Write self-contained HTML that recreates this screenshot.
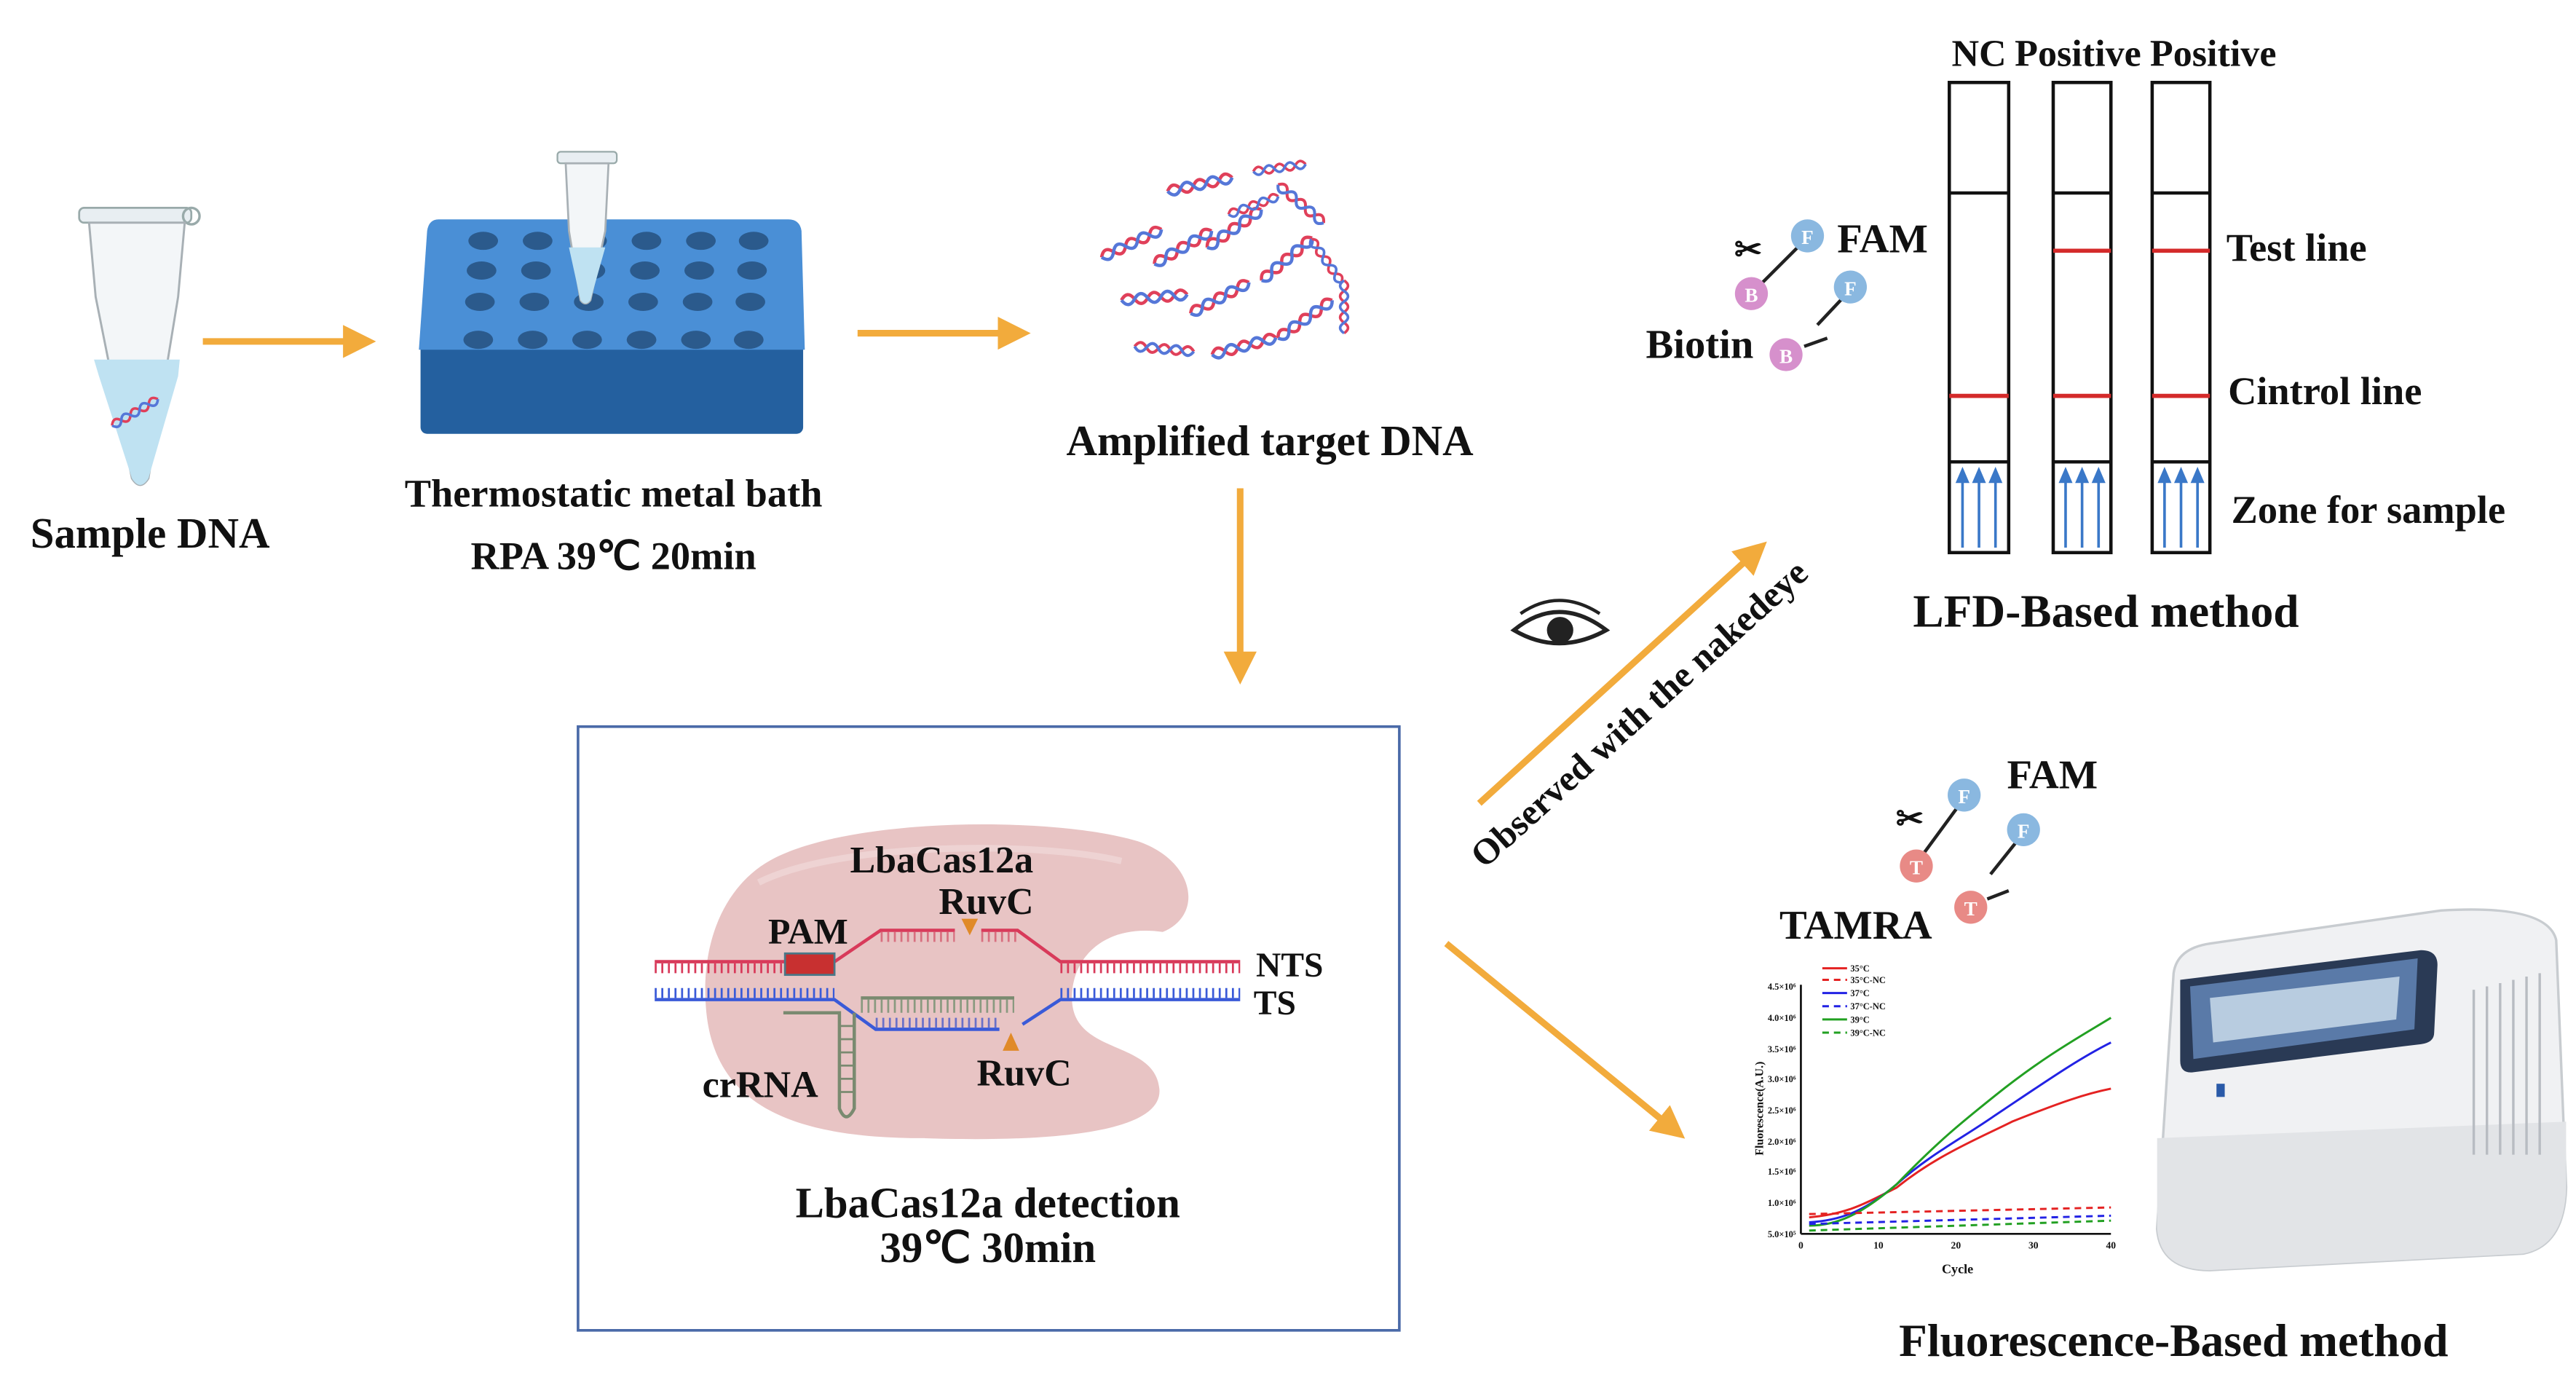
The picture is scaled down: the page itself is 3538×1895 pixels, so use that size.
<!DOCTYPE html>
<html><head><meta charset="utf-8"><style>
html,body{margin:0;padding:0;background:#fff}
svg{display:block}
text{font-family:"Liberation Serif",serif;font-weight:bold;fill:#111}
</style></head><body>
<svg width="3538" height="1895" viewBox="0 0 1562 836.6" preserveAspectRatio="none" xmlns="http://www.w3.org/2000/svg">
<defs>
<marker id="ah" markerWidth="5" markerHeight="5" refX="2.5" refY="2.5" orient="auto" markerUnits="strokeWidth"><path d="M0,0 L5,2.5 L0,5 z" fill="#f2ab3c"/></marker>
<g id="hx">
<path d="M0,0 q4,-6 8,0 t8,0 t8,0 t8,0 t8,0" fill="none" stroke="#e0405a" stroke-width="2"/>
<path d="M0,0 q4,6 8,0 t8,0 t8,0 t8,0 t8,0" fill="none" stroke="#5577d8" stroke-width="2"/>
</g>
</defs>

<!-- Sample tube -->
<rect x="48" y="126" width="68" height="9" rx="3" fill="#e8eef2" stroke="#9aa" stroke-width="1.2"/>
<circle cx="116" cy="131" r="5" fill="none" stroke="#9aa" stroke-width="1.5"/>
<path d="M54,135 L112,135 L108,180 L90,290 Q85,298 80,290 L58,180 Z" fill="#f3f6f8" stroke="#a8b0b5" stroke-width="1.3"/>
<path d="M57,218 L109,218 L108,228 L90,290 Q85,298 80,290 L60,228 Z" fill="#bfe2f2"/>
<use href="#hx" transform="translate(68,258) rotate(-30) scale(0.8)"/>
<text x="91" y="332" font-size="26" text-anchor="middle">Sample DNA</text>

<line x1="123" y1="207" x2="218" y2="207" stroke="#f2ab3c" stroke-width="4" marker-end="url(#ah)"/>

<!-- metal bath -->
<rect x="255" y="205" width="232" height="58" rx="4" fill="#24609f"/>
<path d="M266,133 L478,133 Q485,133 486,140 L488,212 L254,212 L259,140 Q260,133 266,133 Z" fill="#4a8fd6"/>
<g fill="#2b5a8c">
<g id="row">
<ellipse cx="293" cy="146" rx="9" ry="5.5"/><ellipse cx="326" cy="146" rx="9" ry="5.5"/><ellipse cx="359" cy="146" rx="9" ry="5.5"/><ellipse cx="392" cy="146" rx="9" ry="5.5"/><ellipse cx="425" cy="146" rx="9" ry="5.5"/><ellipse cx="457" cy="146" rx="9" ry="5.5"/>
</g>
<use href="#row" transform="translate(-1,18)"/>
<use href="#row" transform="translate(-2,37)"/>
<use href="#row" transform="translate(-3,60)"/>
</g>
<rect x="338" y="92" width="36" height="7" rx="2" fill="#e8eef2" stroke="#9aa"/>
<path d="M343,99 L369,99 L367,140 L358,182 Q355,186 352,182 L345,140 Z" fill="#f3f6f8" stroke="#a8b0b5" stroke-width="1.2"/>
<path d="M345,150 L367,150 L358,182 Q355,186 352,182 Z" fill="#bfe2f2"/>
<text x="372" y="307" font-size="24" text-anchor="middle">Thermostatic metal bath</text>
<text x="372" y="345" font-size="24" text-anchor="middle">RPA  39℃ 20min</text>

<line x1="520" y1="202" x2="615" y2="202" stroke="#f2ab3c" stroke-width="4" marker-end="url(#ah)"/>

<!-- amplified DNA -->
<use href="#hx" transform="translate(668,156) rotate(-25)"/>
<use href="#hx" transform="translate(708,116) rotate(-12)"/>
<use href="#hx" transform="translate(760,104) rotate(-8) scale(0.8)"/>
<use href="#hx" transform="translate(775,112) rotate(40) scale(0.9)"/>
<use href="#hx" transform="translate(700,160) rotate(-30)"/>
<use href="#hx" transform="translate(732,150) rotate(-35)"/>
<use href="#hx" transform="translate(680,182) rotate(-5)"/>
<use href="#hx" transform="translate(722,190) rotate(-28)"/>
<use href="#hx" transform="translate(765,170) rotate(-40)"/>
<use href="#hx" transform="translate(795,145) rotate(55) scale(0.8)"/>
<use href="#hx" transform="translate(688,210) rotate(5) scale(0.9)"/>
<use href="#hx" transform="translate(735,215) rotate(-15)"/>
<use href="#hx" transform="translate(775,205) rotate(-35)"/>
<use href="#hx" transform="translate(815,170) rotate(90) scale(0.8)"/>
<use href="#hx" transform="translate(745,130) rotate(-20) scale(0.8)"/>
<text x="770" y="276" font-size="26" text-anchor="middle">Amplified target DNA</text>

<line x1="752" y1="296" x2="752" y2="405" stroke="#f2ab3c" stroke-width="4" marker-end="url(#ah)"/>

<!-- Cas12a box -->
<rect x="350.5" y="440.5" width="498" height="366" fill="#fff" stroke="#4a6aa8" stroke-width="1.6"/>
<path d="M470,520 C520,495 640,495 690,510 C725,522 730,555 705,565 C670,560 650,580 650,605 C650,640 700,630 703,660 C706,690 620,692 560,690 C480,690 432,670 428,610 C425,570 440,535 470,520 Z" fill="#e8c4c4"/>
<path d="M460,535 C510,510 630,510 680,522" fill="none" stroke="#f2dede" stroke-width="4" opacity="0.6"/>
<g fill="none" stroke-width="2">
<path d="M397,583 L506,583 L534,564 L579,564 M595,564 L617,564 L643,583 L752,583" stroke="#d83a5a"/>
<path d="M397,583 L506,583 M643,583 L752,583" stroke="#d83a5a" stroke-width="6" stroke-dasharray="1.2 2.8" transform="translate(0,4)"/>
<path d="M534,564 L579,564 M595,564 L617,564" stroke="#d87080" stroke-width="6" stroke-dasharray="1.2 2.8" transform="translate(0,4)"/>
<path d="M397,606 L506,606 L531,624 L606,624 M620,621 L643,606 L752,606" stroke="#3a5ad8"/>
<path d="M397,606 L506,606 M643,606 L752,606" stroke="#3a5ad8" stroke-width="6" stroke-dasharray="1.2 2.8" transform="translate(0,-4)"/>
<path d="M531,624 L606,624" stroke="#6a70c8" stroke-width="6" stroke-dasharray="1.2 2.8" transform="translate(0,-4)"/>
<path d="M522,605 L615,605" stroke="#7a8a70"/>
<path d="M522,605 L615,605" stroke="#8a9a80" stroke-width="8" stroke-dasharray="1.2 2.8" transform="translate(0,5)"/>
<path d="M475,614 L509,614 L509,672 Q513,682 518,672 L518,614" stroke="#7a8a70"/>
<path d="M509,622 L518,622 M509,630 L518,630 M509,638 L518,638 M509,646 L518,646 M509,654 L518,654 M509,662 L518,662" stroke="#7a8a70" stroke-width="1.2"/>
</g>
<rect x="476" y="578" width="30" height="13" fill="#c83030" stroke="#4a7888" stroke-width="1.2"/>
<path d="M583,557 L593,557 L588,567 Z" fill="#e08a28"/>
<path d="M608,637 L618,637 L613,626 Z" fill="#e08a28"/>
<text x="571" y="529" font-size="23" text-anchor="middle">LbaCas12a</text>
<text x="598" y="554" font-size="23" text-anchor="middle">RuvC</text>
<text x="490" y="572" font-size="22" text-anchor="middle">PAM</text>
<text x="782" y="592" font-size="21" text-anchor="middle">NTS</text>
<text x="773" y="615" font-size="21" text-anchor="middle">TS</text>
<text x="461" y="665" font-size="23" text-anchor="middle">crRNA</text>
<text x="621" y="658" font-size="23" text-anchor="middle">RuvC</text>
<text x="599" y="738" font-size="26" text-anchor="middle">LbaCas12a detection</text>
<text x="599" y="765" font-size="26" text-anchor="middle">39℃ 30min</text>

<!-- diagonal arrows -->
<line x1="897" y1="487" x2="1064" y2="335" stroke="#f2ab3c" stroke-width="4" marker-end="url(#ah)"/>
<line x1="877" y1="572" x2="1014" y2="684" stroke="#f2ab3c" stroke-width="4" marker-end="url(#ah)"/>
<text x="0" y="0" font-size="22" transform="translate(900,527) rotate(-42)">Observed with the nakedeye</text>
<path d="M918,382 Q945,360 974,382 Q945,398 918,382 Z" fill="#fff" stroke="#222" stroke-width="2.5"/>
<circle cx="946" cy="382" r="8" fill="#222"/>
<path d="M922,372 Q945,356 970,372" fill="none" stroke="#222" stroke-width="2"/>

<!-- LFD probes -->
<text x="1060" y="158" font-size="20" text-anchor="middle" font-weight="normal">✂</text>
<line x1="1092" y1="148" x2="1066" y2="174" stroke="#222" stroke-width="2"/>
<circle cx="1096" cy="143" r="10" fill="#8ab8e0"/><text x="1096" y="148" font-size="12" text-anchor="middle" style="fill:#fff">F</text>
<circle cx="1062" cy="178" r="10" fill="#d690cc"/><text x="1062" y="183" font-size="12" text-anchor="middle" style="fill:#fff">B</text>
<line x1="1118" y1="180" x2="1102" y2="197" stroke="#222" stroke-width="2"/>
<circle cx="1122" cy="174" r="10" fill="#8ab8e0"/><text x="1122" y="179" font-size="12" text-anchor="middle" style="fill:#fff">F</text>
<line x1="1094" y1="210" x2="1108" y2="205" stroke="#222" stroke-width="2"/>
<circle cx="1083" cy="215" r="10" fill="#d690cc"/><text x="1083" y="220" font-size="12" text-anchor="middle" style="fill:#fff">B</text>
<text x="1114" y="153" font-size="25">FAM</text>
<text x="998" y="217" font-size="25">Biotin</text>

<!-- LFD strips -->
<g stroke="#111" stroke-width="2" fill="#fff">
<rect x="1182" y="50" width="36" height="285"/>
<rect x="1245" y="50" width="35" height="285"/>
<rect x="1305" y="50" width="35" height="285"/>
</g>
<g stroke="#111" stroke-width="2">
<line x1="1182" y1="117" x2="1218" y2="117"/><line x1="1245" y1="117" x2="1280" y2="117"/><line x1="1305" y1="117" x2="1340" y2="117"/>
<line x1="1182" y1="280" x2="1218" y2="280"/><line x1="1245" y1="280" x2="1280" y2="280"/><line x1="1305" y1="280" x2="1340" y2="280"/>
</g>
<g stroke="#d42a2a" stroke-width="2.5">
<line x1="1245" y1="152" x2="1280" y2="152"/><line x1="1305" y1="152" x2="1340" y2="152"/>
<line x1="1182" y1="240" x2="1218" y2="240"/><line x1="1245" y1="240" x2="1280" y2="240"/><line x1="1305" y1="240" x2="1340" y2="240"/>
</g>
<g stroke="#3a78c8" stroke-width="1.6" fill="#3a78c8">
<g id="ar"><line x1="1190" y1="332" x2="1190" y2="290"/><path d="M1187,292 L1190,285 L1193,292 Z"/>
<line x1="1200" y1="332" x2="1200" y2="290"/><path d="M1197,292 L1200,285 L1203,292 Z"/>
<line x1="1210" y1="332" x2="1210" y2="290"/><path d="M1207,292 L1210,285 L1213,292 Z"/></g>
<use href="#ar" transform="translate(62.5,0)"/>
<use href="#ar" transform="translate(122.5,0)"/>
</g>
<text x="1200" y="40" font-size="23" text-anchor="middle">NC</text>
<text x="1260" y="40" font-size="23" text-anchor="middle">Positive</text>
<text x="1342" y="40" font-size="23" text-anchor="middle">Positive</text>
<text x="1350" y="158" font-size="24">Test line</text>
<text x="1351" y="245" font-size="24">Cintrol line</text>
<text x="1353" y="317" font-size="24">Zone for sample</text>
<text x="1277" y="380" font-size="28" text-anchor="middle">LFD-Based method</text>

<!-- fluorescence probes -->
<text x="1158" y="503" font-size="20" text-anchor="middle" font-weight="normal">✂</text>
<line x1="1188" y1="488" x2="1166" y2="518" stroke="#222" stroke-width="2"/>
<circle cx="1191" cy="482" r="10" fill="#8ab8e0"/><text x="1191" y="487" font-size="12" text-anchor="middle" style="fill:#fff">F</text>
<circle cx="1162" cy="525" r="10" fill="#e88a86"/><text x="1162" y="530" font-size="12" text-anchor="middle" style="fill:#fff">T</text>
<line x1="1223" y1="510" x2="1207" y2="530" stroke="#222" stroke-width="2"/>
<circle cx="1227" cy="503" r="10" fill="#8ab8e0"/><text x="1227" y="508" font-size="12" text-anchor="middle" style="fill:#fff">F</text>
<line x1="1205" y1="545" x2="1218" y2="540" stroke="#222" stroke-width="2"/>
<circle cx="1195" cy="550" r="10" fill="#e88a86"/><text x="1195" y="555" font-size="12" text-anchor="middle" style="fill:#fff">T</text>
<text x="1217" y="478" font-size="25">FAM</text>
<text x="1079" y="569" font-size="25">TAMRA</text>

<!-- chart -->
<line x1="1092" y1="597" x2="1092" y2="748" stroke="#111" stroke-width="1.2"/>
<line x1="1092" y1="748" x2="1280" y2="748" stroke="#111" stroke-width="1.2"/>
<g>
<text x="1089" y="600" text-anchor="end" font-size="5.5">4.5×10⁶</text>
<text x="1089" y="619" text-anchor="end" font-size="5.5">4.0×10⁶</text>
<text x="1089" y="638" text-anchor="end" font-size="5.5">3.5×10⁶</text>
<text x="1089" y="656" text-anchor="end" font-size="5.5">3.0×10⁶</text>
<text x="1089" y="675" text-anchor="end" font-size="5.5">2.5×10⁶</text>
<text x="1089" y="694" text-anchor="end" font-size="5.5">2.0×10⁶</text>
<text x="1089" y="712" text-anchor="end" font-size="5.5">1.5×10⁶</text>
<text x="1089" y="731" text-anchor="end" font-size="5.5">1.0×10⁶</text>
<text x="1089" y="750" text-anchor="end" font-size="5.5">5.0×10⁵</text>
<text x="1092" y="757" text-anchor="middle" font-size="6">0</text>
<text x="1139" y="757" text-anchor="middle" font-size="6">10</text>
<text x="1186" y="757" text-anchor="middle" font-size="6">20</text>
<text x="1233" y="757" text-anchor="middle" font-size="6">30</text>
<text x="1280" y="757" text-anchor="middle" font-size="6">40</text>
<text x="1187" y="772" text-anchor="middle" font-size="8">Cycle</text>
<text x="0" y="0" text-anchor="middle" font-size="7" transform="translate(1069,672) rotate(-90)">Fluorescence(A.U.)</text>
</g>
<g fill="none" stroke-width="1.3">
<path d="M1097,738 C1120,736 1130,730 1150,720 C1175,700 1200,690 1220,680 C1250,668 1265,663 1280,660" stroke="#e42222"/>
<path d="M1097,741 C1115,740 1130,735 1150,718 C1170,700 1190,690 1210,676 C1240,656 1260,642 1280,632" stroke="#2222e4"/>
<path d="M1097,743 C1115,743 1130,735 1150,718 C1175,692 1190,680 1210,664 C1240,640 1262,628 1280,617" stroke="#22a022"/>
<path d="M1097,736 L1280,732" stroke="#e42222" stroke-dasharray="4 3"/>
<path d="M1097,742 L1280,737" stroke="#2222e4" stroke-dasharray="4 3"/>
<path d="M1097,746 L1280,740" stroke="#22a022" stroke-dasharray="4 3"/>
<path d="M1105,587 L1120,587" stroke="#e42222"/>
<path d="M1105,594 L1120,594" stroke="#e42222" stroke-dasharray="4 3"/>
<path d="M1105,602 L1120,602" stroke="#2222e4"/>
<path d="M1105,610 L1120,610" stroke="#2222e4" stroke-dasharray="4 3"/>
<path d="M1105,618 L1120,618" stroke="#22a022"/>
<path d="M1105,626 L1120,626" stroke="#22a022" stroke-dasharray="4 3"/>
</g>
<g>
<text x="1122" y="589" font-size="5.5" font-weight="normal">35°C</text>
<text x="1122" y="596" font-size="5.5" font-weight="normal">35°C-NC</text>
<text x="1122" y="604" font-size="5.5" font-weight="normal">37°C</text>
<text x="1122" y="612" font-size="5.5" font-weight="normal">37°C-NC</text>
<text x="1122" y="620" font-size="5.5" font-weight="normal">39°C</text>
<text x="1122" y="628" font-size="5.5" font-weight="normal">39°C-NC</text>
</g>

<!-- machine -->
<path d="M1318,590 Q1320,575 1340,572 L1480,552 Q1545,548 1550,570 L1556,720 Q1555,755 1530,760 L1340,770 Q1310,770 1308,745 Z" fill="#f0f1f3" stroke="#c8ccd0" stroke-width="1.5"/>
<path d="M1308,690 L1556,680 L1556,720 Q1555,755 1530,760 L1340,770 Q1310,770 1308,745 Z" fill="#e2e4e7"/>
<path d="M1322,594 L1468,576 Q1478,576 1478,585 L1476,626 Q1476,632 1468,633 L1330,650 Q1322,651 1322,643 Z" fill="#2a3a55"/>
<path d="M1328,598 L1466,581 L1464,624 L1330,642 Z" fill="#5a7aa8"/>
<path d="M1340,605 L1455,592 L1453,618 L1342,632 Z" fill="#b8cce0"/>
<g stroke="#b8bcc2" stroke-width="1.5">
<line x1="1500" y1="600" x2="1500" y2="700"/><line x1="1508" y1="598" x2="1508" y2="700"/><line x1="1516" y1="596" x2="1516" y2="700"/><line x1="1524" y1="594" x2="1524" y2="700"/><line x1="1532" y1="592" x2="1532" y2="700"/><line x1="1540" y1="590" x2="1540" y2="700"/>
</g>
<rect x="1344" y="657" width="5" height="8" fill="#2a5aa8"/>
<text x="1318" y="822" font-size="28" text-anchor="middle">Fluorescence-Based method</text>
</svg>
</body></html>
